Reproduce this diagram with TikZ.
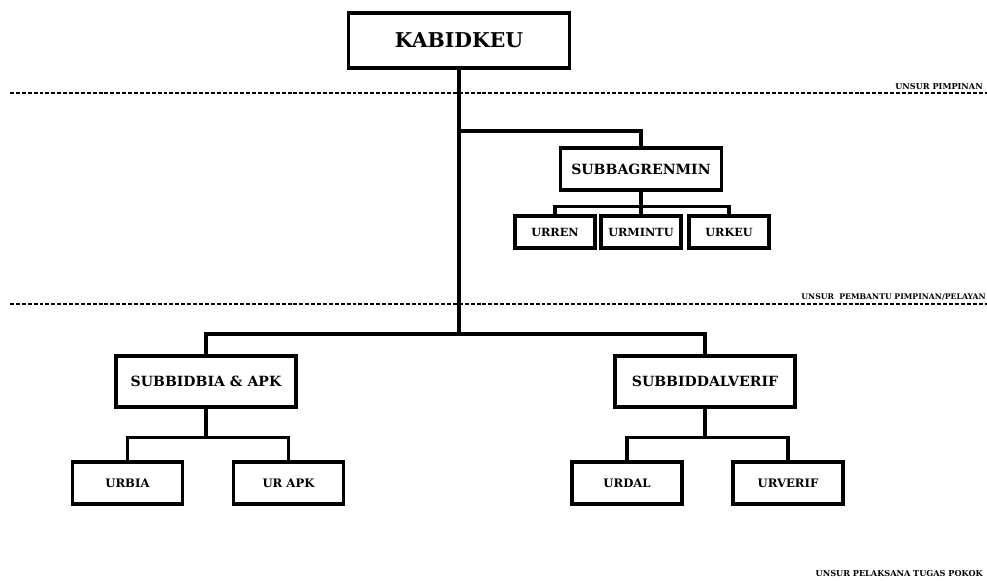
\documentclass[tikz,border=0pt]{standalone}
\usepackage{fontspec}
\setmainfont{DejaVu Serif}
\usetikzlibrary{calc, positioning}

\begin{document}
\begin{tikzpicture}[x=0.025cm, y=-0.025cm,
    unitbox/.style={draw, line width=2.3pt, line join=miter, fill=white, inner sep=0pt},
    headbox/.style={unitbox, minimum width=5.525cm, minimum height=1.375cm, font=\bfseries\fontsize{14.5}{16}\selectfont},
    subbox/.style={unitbox, minimum width=4.5cm, minimum height=1.275cm, font=\bfseries\fontsize{10}{12}\selectfont},
    urbox/.style={unitbox, minimum width=2.75cm, minimum height=1.05cm, font=\bfseries\fontsize{8.3}{10}\selectfont},
    smallbox/.style={unitbox, minimum width=2cm, minimum height=0.8cm, font=\bfseries\fontsize{8}{10}\selectfont},
    link/.style={line width=2.3pt, line join=miter},
    tierline/.style={line width=1pt, dash pattern=on 2.8pt off 1.4pt},
    tier/.style={inner sep=0pt, font=\bfseries\fontsize{5.8}{7}\selectfont}]
    \clip (0,0) rectangle (987,580);
    \useasboundingbox (0,0) rectangle (987,580);

    % === tiers ===
    \draw[tierline] (10,93) -- (987,93);
    \draw[tierline] (10,304) -- (987,304);
    \node[tier, anchor=base east] (pimpinan) at (983,89) {UNSUR PIMPINAN};
    \node[tier, anchor=base east, font=\bfseries\fontsize{5.5}{7}\selectfont] (pembantu) at (986,299) {UNSUR\ \ PEMBANTU PIMPINAN/PELAYAN};
    \node[tier, anchor=base east] (pelaksana) at (983,576) {UNSUR PELAKSANA TUGAS POKOK};

    % === boxes ===
    \node[headbox] (kabidkeu) at (459,40.5) {KABIDKEU};
    \node[subbox, minimum width=4.025cm, minimum height=1.05cm] (subbagrenmin) at (641,169) {SUBBAGRENMIN};
    \node[smallbox] (urren) at (555,232) {URREN};
    \node[smallbox] (urmintu) at (641,232) {URMINTU};
    \node[smallbox] (urkeu) at (729,232) {URKEU};

    \node[subbox] (subbidbia) at (206,381.5) {SUBBIDBIA \& APK};
    \node[subbox] (subbiddalverif) at (705,381.5) {SUBBIDDALVERIF};
    \node[urbox] (urbia) at (127.5,483) {URBIA};
    \node[urbox] (urapk) at (288.5,483) {UR APK};
    \node[urbox] (urdal) at (627,483) {URDAL};
    \node[urbox] (urverif) at (788,483) {URVERIF};

    % === connectors ===
    \coordinate (staff) at (kabidkeu.south |- 0,131);
    \coordinate (split) at (kabidkeu.south |- 0,334);
    \draw[link] (kabidkeu.south) -- (split);
    \draw[link] (staff) -| (subbagrenmin.north);
    \draw[link] (subbidbia.north) |- (split) -| (subbiddalverif.north);

    \draw[link] (subbagrenmin.south) -- (urmintu.north);
    \draw[link] (urren.north) |- ($(subbagrenmin.south)+(0,15)$) -| (urkeu.north);

    \draw[link] (subbidbia.south) -- ++(0,29);
    \draw[link] (urbia.north) |- ($(subbidbia.south)+(0,29)$) -| (urapk.north);
    \draw[link] (subbiddalverif.south) -- ++(0,29);
    \draw[link] (urdal.north) |- ($(subbiddalverif.south)+(0,29)$) -| (urverif.north);
\end{tikzpicture}
\end{document}
